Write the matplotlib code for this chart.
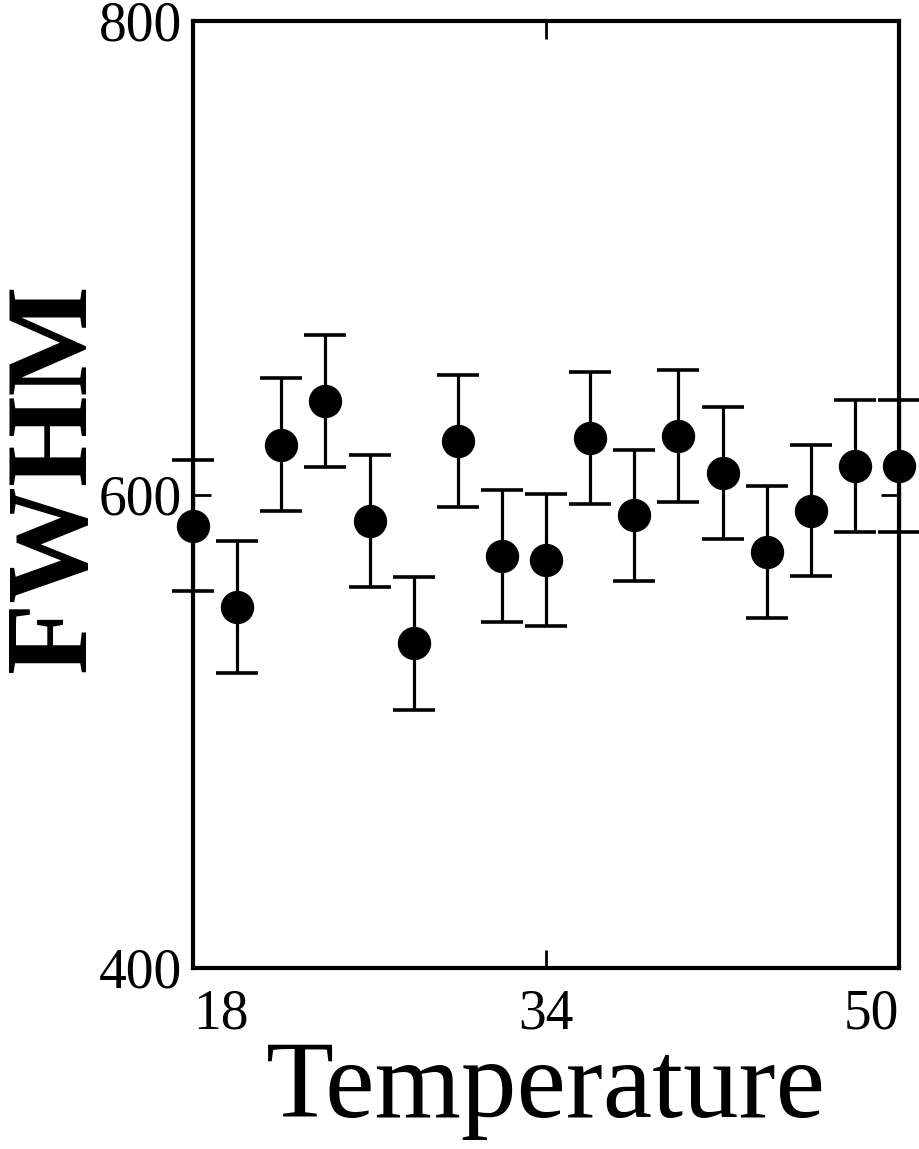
import numpy as np
import matplotlib.pyplot as plt

plt.rcParams['font.family'] = ['Liberation Serif', 'DejaVu Serif']

# FWHM vs temperature
temperature = [18, 20, 22, 24, 26, 28, 30, 32, 34, 36, 38, 40, 42, 44, 46, 48, 50]
fwhm = [586.9, 552.6, 621.1, 639.4, 588.7, 537.1, 622.6, 574.0, 572.3,
        623.9, 591.3, 624.7, 609.1, 575.8, 593.2, 612.0, 612.0]
fwhm_err = [27.7, 27.9, 28.0, 27.8, 27.9, 28.0, 28.0, 27.8, 28.0,
            28.0, 27.7, 28.0, 27.9, 27.9, 27.7, 27.9, 27.9]

x_ticks = [18, 34, 50]
y_ticks = [400, 600, 800]

fig = plt.figure(figsize=(9.19, 11.49), dpi=100)
ax = fig.add_axes([193/919, 1 - 968/1149, 706/919, 947/1149])

ax.errorbar(temperature, fwhm, yerr=fwhm_err, fmt='o', color='black',
            markersize=23, elinewidth=2.3, capsize=15, capthick=2.6,
            clip_on=False, zorder=3)

ax.set_xlim(18, 50)
ax.set_ylim(400, 800)
ax.set_xticks(x_ticks)
ax.set_xticklabels([str(t) for t in x_ticks])
ax.set_yticks(y_ticks)
ax.set_yticklabels([str(t) for t in y_ticks])

labels = ax.get_xticklabels()
labels[0].set_ha('left')
labels[-1].set_ha('right')

ax.tick_params(direction='in', length=13, width=2, labelsize=40,
               top=True, right=True, pad=8)
ax.tick_params(axis='x', pad=15)
for s in ax.spines.values():
    s.set_linewidth(3)

fig.text(57/919, 1 - 478/1149, 'FWHM', rotation=90, ha='center', va='center',
         fontsize=84, fontweight='bold')
fig.text(546/919, 1 - 1117/1149, 'Temperature', ha='center', va='baseline',
         fontsize=80)

fig.savefig('out.png', dpi=100)
